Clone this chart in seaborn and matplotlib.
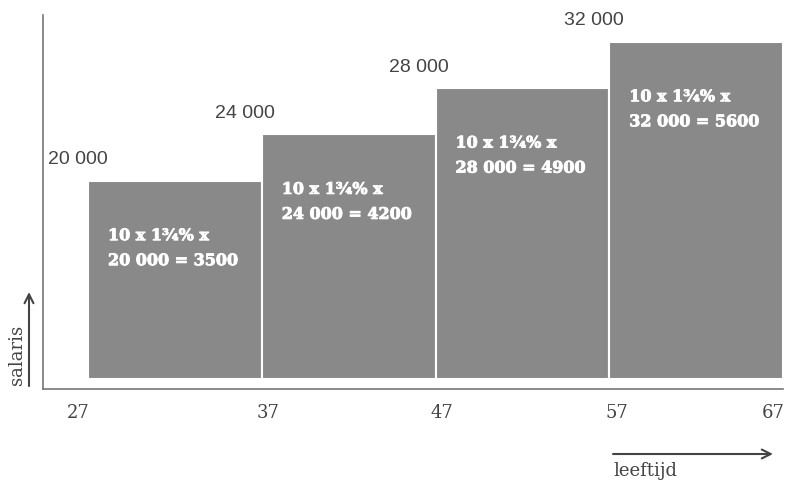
import matplotlib
matplotlib.use("Agg")
import matplotlib.pyplot as plt
import matplotlib.patheffects as pe
import seaborn as sns
import pandas as pd

# ---- data ----
age_edges = [27, 37, 47, 57, 67]
salaries = [20000, 24000, 28000, 32000]
salary_labels = ["20 000", "24 000", "28 000", "32 000"]
formula_line1 = ["10 x 1¾% x", "10 x 1¾% x", "10 x 1¾% x", "10 x 1¾% x"]
formula_line2 = ["20 000 = 3500", "24 000 = 4200", "28 000 = 4900", "32 000 = 5600"]
tick_labels = ["27", "37", "47", "57", "67"]
y_title = "salaris"
x_title = "leeftijd"

df = pd.DataFrame({
    "start": age_edges[:-1],
    "end": age_edges[1:],
    "salary": salaries,
})

# ---- style ----
sns.set_theme(style="white")
plt.rcParams["font.family"] = ["DejaVu Sans"]

BAR_COLOR = "#898989"
TEXT_GRAY = "#444444"
AXIS_GRAY = "#777777"
BAR_BASE = 2900
SERIF = "DejaVu Serif"
SANS = "Liberation Sans"
px = 0.72  # points per pixel at dpi 100
label_dx = [-10, -17, -17, -15]   # hand placement offsets (pixels)
tick_dx = [-10, 6, 6, 8, -10]

fig = plt.figure(figsize=(7.87, 4.84), dpi=100)
ax = fig.add_axes([43 / 787, 1 - 388.7 / 484, 740 / 787, (388.7 - 15) / 484])

ax.bar(df["start"], df["salary"] - BAR_BASE, width=df["end"] - df["start"],
       bottom=BAR_BASE, align="edge", color=BAR_COLOR,
       edgecolor="white", linewidth=1.5)

ax.set_xlim(24.41, 67)
ax.set_ylim(2030, 34315)

for s in ["top", "right"]:
    ax.spines[s].set_visible(False)
for s in ["left", "bottom"]:
    ax.spines[s].set_color(AXIS_GRAY)
    ax.spines[s].set_linewidth(1.2)

ax.set_xticks([])
ax.set_yticks([])

bold_fx = [pe.withStroke(linewidth=0.6, foreground="white")]
for start, val, lab, l1, l2, dx in zip(df["start"], df["salary"], salary_labels,
                                       formula_line1, formula_line2, label_dx):
    ax.annotate(lab, xy=(start, val), xytext=(dx * px, 21 * px),
                textcoords="offset points", ha="center", va="center",
                fontsize=14, color=TEXT_GRAY, family=SANS, annotation_clip=False)
    ax.annotate(l1, xy=(start, val), xytext=(20 * px, -55 * px),
                textcoords="offset points", ha="left", va="center",
                fontsize=11.5, color="white", family=SERIF, fontweight="bold",
                path_effects=bold_fx)
    ax.annotate(l2, xy=(start, val), xytext=(20 * px, -80 * px),
                textcoords="offset points", ha="left", va="center",
                fontsize=11.5, color="white", family=SERIF, fontweight="bold",
                path_effects=bold_fx)

# tick labels (hand placed in the original, small offsets)
for edge, lab, dx in zip(age_edges, tick_labels, tick_dx):
    ax.annotate(lab, xy=(edge, 0), xycoords=("data", "axes fraction"),
                xytext=(dx * px, -24.5 * px), textcoords="offset points",
                ha="center", va="center", fontsize=13, color=TEXT_GRAY,
                family=SERIF, annotation_clip=False)

# axis arrows and titles
arrow_kw = dict(arrowstyle="->", color=TEXT_GRAY, lw=1.5, mutation_scale=16,
                shrinkA=0, shrinkB=0)
ax.annotate("", xy=(29 / 787, 1 - 292 / 484), xytext=(29 / 787, 1 - 386 / 484),
            xycoords="figure fraction", textcoords="figure fraction",
            arrowprops=arrow_kw, annotation_clip=False)
ax.annotate("", xy=(773 / 787, 1 - 454 / 484), xytext=(613 / 787, 1 - 454 / 484),
            xycoords="figure fraction", textcoords="figure fraction",
            arrowprops=arrow_kw, annotation_clip=False)
fig.text(17 / 787, 1 - 355 / 484, y_title, rotation=90, ha="center", va="center",
         fontsize=13, color=TEXT_GRAY, family=SERIF)
fig.text(613 / 787, 1 - 471 / 484, x_title, ha="left", va="center",
         fontsize=13, color=TEXT_GRAY, family=SERIF)

fig.savefig("out.png", dpi=100, facecolor="white")
